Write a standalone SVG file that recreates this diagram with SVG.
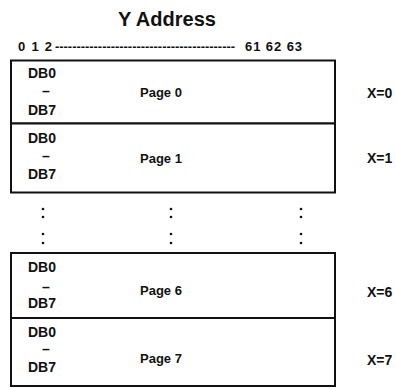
<svg xmlns="http://www.w3.org/2000/svg" width="396" height="388" viewBox="0 0 396 388">
<style>
text{font-family:"Liberation Sans",Arial,sans-serif;fill:#111;}
.t{font-size:20px;font-weight:bold;}
.h{font-size:13px;font-weight:bold;}
.db{font-size:14px;font-weight:bold;}
.pg{font-size:13px;font-weight:bold;}
.x{font-size:14px;font-weight:bold;}
.box{fill:#fff;stroke:#111;stroke-width:2;}
.dot{fill:#111;}
</style>
<rect width="396" height="388" fill="#fff"/>
<g id="title">
<text class="t" x="167" y="26" text-anchor="middle">Y Address</text>
</g>
<g id="yaxis">
<text class="h" x="18" y="51" textLength="34">0 1 2</text>
<text class="h" x="55" y="51" textLength="180" lengthAdjust="spacingAndGlyphs">------------------------------------------</text>
<text class="h" x="245" y="51" textLength="57">61 62 63</text>
</g>
<g id="page0">
<rect class="box" x="11" y="60.5" width="324" height="63"/>
<text class="db" x="28" y="78">DB0</text>
<text class="db" x="42" y="96">–</text>
<text class="db" x="28" y="115">DB7</text>
<text class="pg" x="140" y="97">Page 0</text>
<text class="x" x="367" y="98">X=0</text>
</g>
<g id="page1">
<rect class="box" x="11" y="123.5" width="324" height="69"/>
<text class="db" x="28" y="143">DB0</text>
<text class="db" x="42" y="161">–</text>
<text class="db" x="28" y="179">DB7</text>
<text class="pg" x="140" y="163">Page 1</text>
<text class="x" x="367" y="163">X=1</text>
</g>
<g id="ellipsis">
<circle class="dot" cx="43" cy="209" r="1.3"/><circle class="dot" cx="43" cy="217" r="1.3"/>
<circle class="dot" cx="43" cy="234" r="1.3"/><circle class="dot" cx="43" cy="243" r="1.3"/>
<circle class="dot" cx="171" cy="209" r="1.3"/><circle class="dot" cx="171" cy="217" r="1.3"/>
<circle class="dot" cx="171" cy="234" r="1.3"/><circle class="dot" cx="171" cy="243" r="1.3"/>
<circle class="dot" cx="301" cy="209" r="1.3"/><circle class="dot" cx="301" cy="217" r="1.3"/>
<circle class="dot" cx="301" cy="234" r="1.3"/><circle class="dot" cx="301" cy="243" r="1.3"/>
</g>
<g id="page6">
<rect class="box" x="11" y="253" width="324" height="65"/>
<text class="db" x="28" y="271.5">DB0</text>
<text class="db" x="42" y="292">–</text>
<text class="db" x="28" y="308">DB7</text>
<text class="pg" x="140" y="295">Page 6</text>
<text class="x" x="367" y="297">X=6</text>
</g>
<g id="page7">
<rect class="box" x="11" y="318" width="324" height="68"/>
<text class="db" x="28" y="337">DB0</text>
<text class="db" x="42" y="354">–</text>
<text class="db" x="28" y="372">DB7</text>
<text class="pg" x="140" y="363">Page 7</text>
<text class="x" x="367" y="365">X=7</text>
</g>
</svg>
